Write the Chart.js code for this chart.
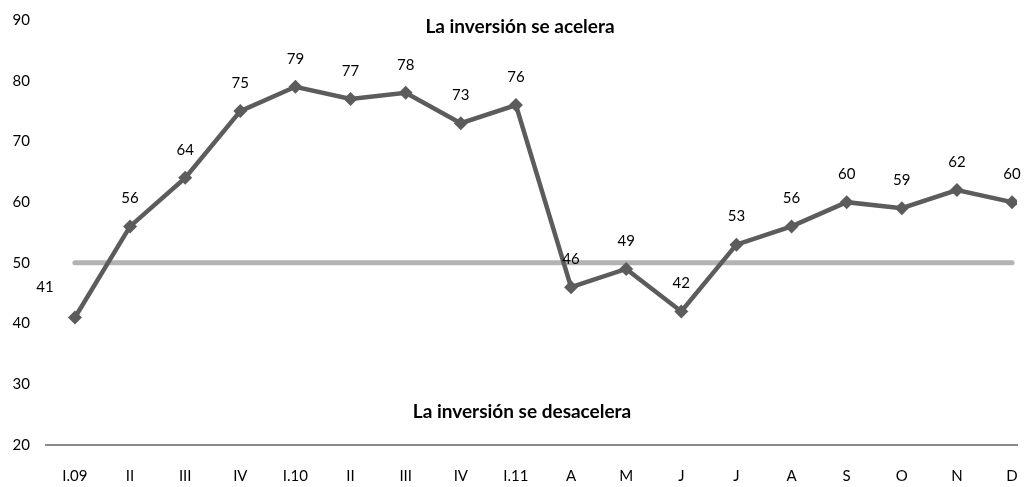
<!DOCTYPE html>
<html>
<head>
<meta charset="utf-8">
<script src="https://cdn.jsdelivr.net/npm/chart.js@4.4.1/dist/chart.umd.min.js"></script>
<style>
  html, body { margin: 0; padding: 0; background: #fff; overflow: hidden; }
  #wrap { width: 1024px; height: 487px; }
</style>
</head>
<body>
<div id="wrap"><canvas id="invChart"></canvas></div>
<script>
const periods = ['I.09', 'II', 'III', 'IV', 'I.10', 'II', 'III', 'IV', 'I.11', 'A', 'M', 'J', 'J', 'A', 'S', 'O', 'N', 'D']
const indexValues = [41, 56, 64, 75, 79, 77, 78, 73, 76, 46, 49, 42, 53, 56, 60, 59, 62, 60]
const threshold = periods.map(() => 50)
const yTicks = [20, 30, 40, 50, 60, 70, 80, 90]
const topNote = 'La inversión se acelera'
const bottomNote = 'La inversión se desacelera'

const FONT = 'Lato, "Open Sans", sans-serif'

// etiquetas de valor sobre cada punto + textos de las zonas
const labelsPlugin = {
  id: 'valueLabels',
  afterDatasetsDraw(chart) {
    const { ctx } = chart
    const meta = chart.getDatasetMeta(1)
    ctx.save()
    ctx.font = '15px ' + FONT
    ctx.fillStyle = '#000'
    ctx.textAlign = 'center'
    ctx.textBaseline = 'middle'
    meta.data.forEach((pt, i) => {
      let dx = 0, dy = -28
      if (i === 0) { dx = -30; dy = -30 }
      ctx.fillText(String(indexValues[i]), pt.x + dx, pt.y + dy)
    })
    ctx.font = 'bold 19px ' + FONT
    ctx.fillText(topNote, 520, 27)
    ctx.fillText(bottomNote, 522, 412)
    ctx.restore()
  }
}

new Chart(document.getElementById('invChart'), {
  type: 'line',
  data: {
    datasets: [
      {
        label: 'umbral',
        data: threshold.map((v, i) => ({ x: i, y: v })),
        borderColor: '#b3b3b3',
        borderWidth: 5,
        borderCapStyle: 'round',
        pointRadius: 0,
        order: 2
      },
      {
        label: 'índice',
        data: indexValues.map((v, i) => ({ x: i, y: v })),
        borderColor: '#5c5c5c',
        backgroundColor: '#5c5c5c',
        borderWidth: 4.5,
        pointStyle: 'rectRot',
        pointRadius: 7,
        pointBorderWidth: 0,
        order: 1
      }
    ]
  },
  options: {
    responsive: true,
    maintainAspectRatio: false,
    animation: false,
    layout: { padding: { top: 20, bottom: 0, right: 0, left: 0 } },
    plugins: {
      legend: { display: false },
      tooltip: { enabled: false }
    },
    scales: {
      x: {
        type: 'linear',
        min: -0.525,
        max: 17.09,
        afterBuildTicks: (axis) => { axis.ticks = periods.map((_, i) => ({ value: i })) },
        afterFit: (axis) => {
          axis.height = 42
          axis.paddingLeft = 0
          axis.paddingRight = 0
        },
        grid: { display: false, drawTicks: false },
        border: { display: true, color: '#8a8a8a', width: 2 },
        ticks: {
          autoSkip: false,
          maxRotation: 0,
          padding: 22,
          color: '#000',
          font: { family: FONT, size: 15 },
          callback: (v) => periods[v]
        }
      },
      y: {
        min: 20,
        max: 90,
        afterBuildTicks: (axis) => { axis.ticks = yTicks.map(v => ({ value: v })) },
        afterFit: (axis) => {
          axis.width = 46
          axis.paddingTop = 0
          axis.paddingBottom = 0
        },
        grid: { display: false, drawTicks: false },
        border: { display: false },
        ticks: {
          padding: 16,
          color: '#000',
          font: { family: FONT, size: 15 }
        }
      }
    }
  },
  plugins: [labelsPlugin]
})
</script>
</body>
</html>
